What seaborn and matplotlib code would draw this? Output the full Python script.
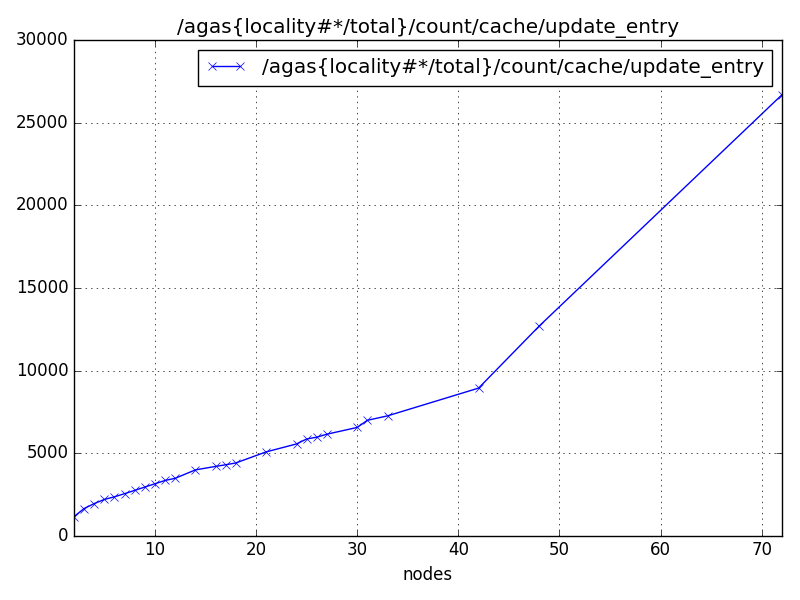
import matplotlib
matplotlib.use("Agg")
import matplotlib.pyplot as plt
import seaborn as sns
import pandas as pd

nodes = [2, 3, 4, 5, 6, 7, 8, 9, 10, 11, 12, 14, 16, 17, 18, 21, 24, 25, 26, 27,
         30, 31, 33, 42, 48, 72]
values = [1160, 1650, 1950, 2200, 2360, 2550, 2750, 2950, 3150, 3350, 3480, 3990,
          4200, 4300, 4410, 5080, 5560, 5860, 5970, 6150, 6560, 6990, 7260, 8940,
          12700, 26700]
series_name = "/agas{locality#*/total}/count/cache/update_entry"

df = pd.DataFrame({"nodes": nodes, "value": values})

plt.style.use("classic")
plt.rcParams["font.family"] = ["DejaVu Sans"]

fig, ax = plt.subplots(figsize=(8, 6), dpi=100)
fig.patch.set_facecolor("white")
sns.lineplot(data=df, x="nodes", y="value", ax=ax, color="blue", marker="x",
             markersize=6, markeredgewidth=0.5, linewidth=1, label=series_name,
             markeredgecolor="blue")
ax.set_xlim(2, 72)
ax.set_ylim(0, 30000)
ax.set_xticks([10, 20, 30, 40, 50, 60, 70])
ax.set_xlabel("nodes", fontsize=12)
ax.set_ylabel("")
ax.set_title(series_name, fontsize=14.4)
ax.grid(True, linestyle=":", color="black", linewidth=0.5)
ax.tick_params(labelsize=12)
leg = ax.legend(loc="upper right", fontsize=14.4, numpoints=2, fancybox=False)
fig.subplots_adjust(left=0.0925, right=0.9775, top=0.933, bottom=0.107)
fig.savefig("out.png", dpi=100)
